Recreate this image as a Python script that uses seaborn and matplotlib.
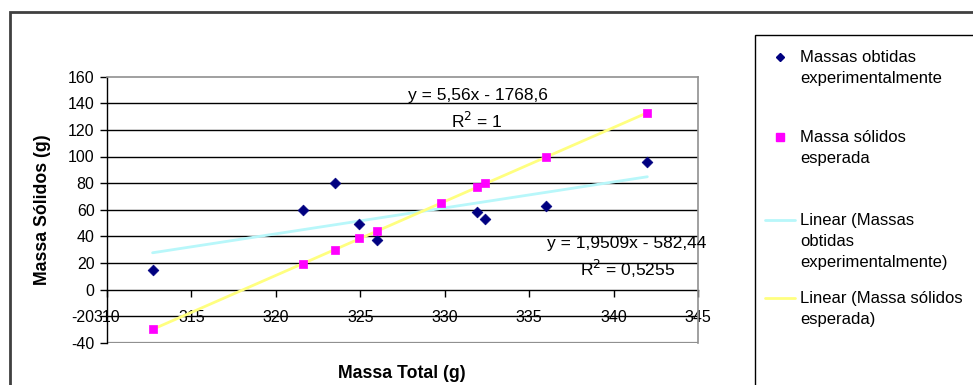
import matplotlib
matplotlib.use("Agg")
import matplotlib.pyplot as plt
from matplotlib.lines import Line2D
from matplotlib.patches import Rectangle
import seaborn as sns
import pandas as pd

# Experimental solids mass vs total mass
massa_total_exp = [312.7, 321.6, 323.5, 324.9, 326.0, 331.9, 332.4, 336.0, 342.0]
massa_solidos_exp = [15, 60, 80, 49, 37.5, 58.5, 53, 62.5, 96]

# Expected solids mass vs total mass
massa_total_esp = [312.7, 321.6, 323.5, 324.9, 326.0, 329.8, 331.9, 332.4, 336.0, 342.0]
massa_solidos_esp = [-30, 19.5, 30, 38.5, 44, 65, 77, 80, 99.5, 133]

# Linear trendline coefficients (slope, intercept) and R²
trend_exp = (1.9509, -582.44)
trend_esp = (5.56, -1768.6)
r2_exp = "0,5255"
r2_esp = "1"

x_ticks = [310, 315, 320, 325, 330, 335, 340, 345]
y_ticks = [-40, -20, 0, 20, 40, 60, 80, 100, 120, 140, 160]

legend_labels = [
    "Massas obtidas\nexperimentalmente",
    "Massa sólidos\nesperada",
    "Linear (Massas\nobtidas\nexperimentalmente)",
    "Linear (Massa sólidos\nesperada)",
]

COL_EXP = "#000080"
COL_ESP = "#FF00FF"
COL_TR_EXP = "#B8F7FA"
COL_TR_ESP = "#FFFF80"

FS_TICK = 11.5
FS_LABEL = 12.7
FS_EQ = 12.5
FS_LEG = 12.0

sns.set_theme(style="white")
plt.rcParams["font.family"] = ["Liberation Sans", "DejaVu Sans"]
plt.rcParams["text.color"] = "black"
plt.rcParams["axes.labelcolor"] = "black"
plt.rcParams["xtick.color"] = "black"
plt.rcParams["ytick.color"] = "black"

W, H = 973, 385
fig = plt.figure(figsize=(W / 100, H / 100), dpi=100)
fig.patch.set_facecolor("white")


def fx(px):
    return px / W


def fy(py):
    return 1 - py / H


ax = fig.add_axes([fx(107), fy(342.7), fx(698) - fx(107), fy(76.7) - fy(342.7)])
ax.set_facecolor("white")

df_exp = pd.DataFrame({"x": massa_total_exp, "y": massa_solidos_exp})
df_esp = pd.DataFrame({"x": massa_total_esp, "y": massa_solidos_esp})


# Trendlines evaluated over each series' x range
def trend_frame(xs, coef):
    lo, hi = min(xs), max(xs)
    return pd.DataFrame({"x": [lo, hi], "y": [coef[0] * lo + coef[1], coef[0] * hi + coef[1]]})


sns.lineplot(data=trend_frame(massa_total_exp, trend_exp), x="x", y="y", ax=ax,
             color=COL_TR_EXP, linewidth=2.0, zorder=3)
sns.lineplot(data=trend_frame(massa_total_esp, trend_esp), x="x", y="y", ax=ax,
             color=COL_TR_ESP, linewidth=2.0, zorder=3)

sns.scatterplot(data=df_exp, x="x", y="y", ax=ax, marker="D", s=30,
                color=COL_EXP, edgecolor=COL_EXP, linewidth=0.5, zorder=4)
sns.scatterplot(data=df_esp, x="x", y="y", ax=ax, marker="s", s=36,
                color=COL_ESP, edgecolor=COL_ESP, linewidth=0.5, zorder=5)

ax.set_xlim(310, 345)
ax.set_ylim(-40, 160)
ax.set_xticks(x_ticks)
ax.set_yticks(y_ticks)
ax.set_xticklabels([str(v) for v in x_ticks])
ax.set_yticklabels([str(v) for v in y_ticks])

# Horizontal gridlines
for v in y_ticks:
    if v not in (-40, 0, 160):
        ax.axhline(v, color="black", linewidth=1.0, zorder=1)

# Plot-area frame and axis lines
ax.spines["top"].set_color("#909090")
ax.spines["right"].set_color("#909090")
ax.spines["top"].set_linewidth(1.2)
ax.spines["right"].set_linewidth(1.2)
ax.axhline(-40, color="#909090", linewidth=1.6, zorder=1)
ax.spines["left"].set_color("black")
ax.spines["left"].set_linewidth(1.0)
ax.spines["bottom"].set_position(("data", 0))
ax.spines["bottom"].set_color("black")
ax.spines["bottom"].set_linewidth(1.0)
ax.spines["bottom"].set_zorder(2)

ax.tick_params(axis="x", direction="out", length=5, width=1, color="black",
               pad=9.5, labelsize=FS_TICK, labelcolor="black", bottom=True)
ax.tick_params(axis="y", direction="out", length=5, width=1, color="black",
               pad=4, labelsize=FS_TICK, labelcolor="black", left=True)

ax.set_xlabel("")
ax.set_ylabel("")
fig.text(fx(402), fy(373), "Massa Total (g)", ha="center", va="center",
         fontsize=FS_LABEL, fontweight="bold", color="black")
fig.text(fx(43), fy(210), "Massa Sólidos (g)", ha="center", va="center",
         fontsize=FS_LABEL, fontweight="bold", rotation=90, color="black")

# Trendline equations
ax.text(331.95, 142.5, f"y = {trend_esp[0]:.2f}x - {abs(trend_esp[1]):.1f}".replace(".", ","),
        ha="center", va="baseline", fontsize=FS_EQ, color="black", zorder=6)
ax.text(331.9, 121.2, f"R$^2$ = {r2_esp}", ha="center", va="baseline",
        fontsize=FS_EQ, color="black", zorder=6)
ax.text(340.8, 31.0, f"y = {trend_exp[0]:.4f}x - {abs(trend_exp[1]):.2f}".replace(".", ","),
        ha="center", va="baseline", fontsize=FS_EQ, color="black", zorder=6)
ax.text(340.85, 10.1, f"R$^2$ = {r2_exp}", ha="center", va="baseline",
        fontsize=FS_EQ, color="black", zorder=6)

# Outer chart frame
fig.add_artist(Rectangle((fx(10), fy(400)), fx(1000) - fx(10), fy(12) - fy(400),
                         transform=fig.transFigure, fill=False,
                         edgecolor="#404040", linewidth=2.0))

# Legend box and entries
fig.add_artist(Rectangle((fx(755), fy(400)), fx(1000) - fx(755), fy(35) - fy(400),
                         transform=fig.transFigure, fill=False,
                         edgecolor="black", linewidth=1.0))
text_x = fx(800)
line_h = 21.5
entry_tops = [57, 137, 220, 298]
handles = [
    dict(marker="D", color=COL_EXP, ms=4.5, line=False),
    dict(marker="s", color=COL_ESP, ms=5.5, line=False),
    dict(marker=None, color=COL_TR_EXP, ms=0, line=True),
    dict(marker=None, color=COL_TR_ESP, ms=0, line=True),
]
for label, top, h in zip(legend_labels, entry_tops, handles):
    for i, ln in enumerate(label.split("\n")):
        fig.text(text_x, fy(top + i * line_h), ln, ha="left", va="center",
                 fontsize=FS_LEG, color="black")
    if h["line"]:
        fig.add_artist(Line2D([fx(765), fx(795)], [fy(top), fy(top)],
                              transform=fig.transFigure, color=h["color"], linewidth=2.0))
    else:
        fig.add_artist(Line2D([fx(780)], [fy(top)], transform=fig.transFigure,
                              marker=h["marker"], color=h["color"], markersize=h["ms"],
                              linestyle="none"))

fig.savefig("out.png", dpi=100)
